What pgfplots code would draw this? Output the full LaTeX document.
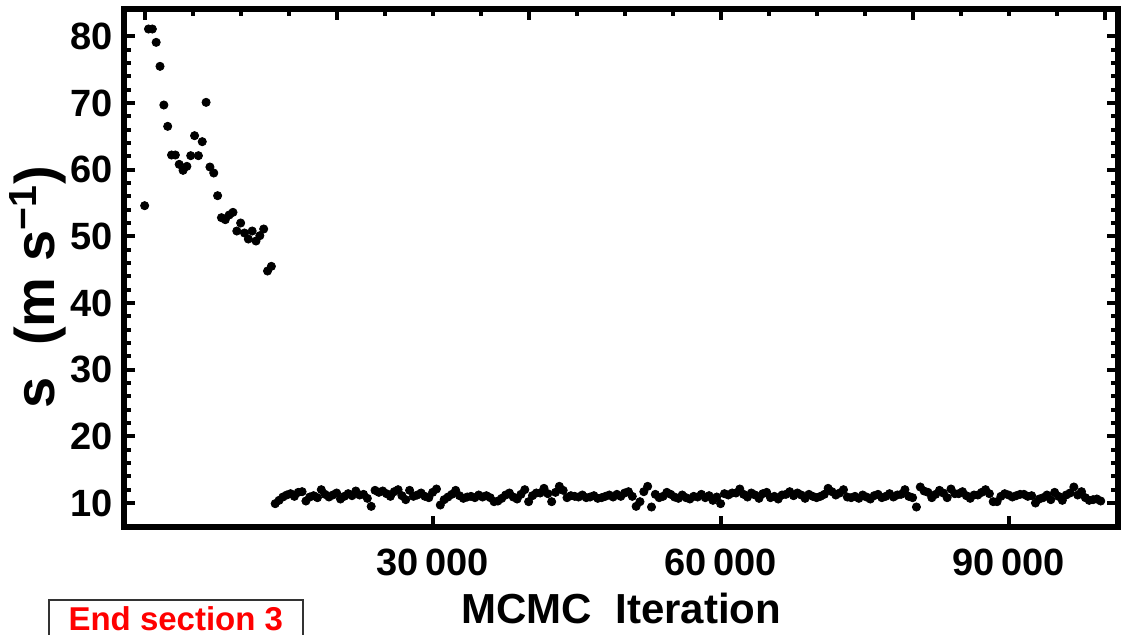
\documentclass[border=0pt]{standalone}
\usepackage{fontspec}
\setmainfont{Liberation Sans}
\usepackage{pgfplots}
\pgfplotsset{compat=1.18}
\usepackage{pgfplotstable}
\pgfplotstableread{
x y
0 54.6
400 81.1
800 81.1
1200 79.1
1600 75.5
2000 69.7
2400 66.5
2800 62.2
3200 62.2
3600 60.8
4000 59.9
4400 60.5
4800 62.1
5200 65.1
5600 62.1
6000 64.2
6400 70.1
6800 60.4
7200 59.5
7600 56.1
8000 52.8
8400 52.5
8800 53.2
9200 53.6
9600 50.8
10000 52.0
10400 50.5
10800 49.6
11200 50.8
11600 49.3
12000 50.1
12400 51.1
12800 44.8
13200 45.5
13600 9.9
14000 10.4
14400 10.9
14800 11.2
15200 11.4
15600 11.0
16000 11.6
16400 11.7
16800 10.3
17200 10.9
17600 11.1
18000 10.8
18400 12.0
18800 11.3
19200 10.9
19600 11.2
20000 11.5
20400 10.6
20800 11.0
21200 11.4
21600 11.1
22000 11.8
22400 11.2
22800 11.3
23200 10.7
23600 9.5
24000 11.9
24400 11.6
24800 11.8
25200 11.4
25600 11.0
26000 11.7
26400 12.0
26800 11.1
27200 10.5
27600 11.9
28000 11.0
28400 11.2
28800 11.5
29200 11.0
29600 10.8
30000 11.6
30400 12.1
30800 9.7
31200 10.5
31600 10.9
32000 11.3
32400 11.9
32800 11.1
33200 10.7
33600 10.9
34000 11.0
34400 10.8
34800 11.2
35200 10.9
35600 11.1
36000 10.8
36400 10.2
36800 10.3
37200 10.7
37600 11.2
38000 11.5
38400 10.9
38800 10.6
39200 11.3
39600 12.0
40000 10.2
40400 11.1
40800 11.5
41200 11.5
41600 12.2
42000 11.4
42400 10.2
42800 11.6
43200 12.5
43600 11.9
44000 10.8
44400 11.1
44800 11.0
45200 10.9
45600 11.2
46000 10.8
46400 10.9
46800 11.1
47200 10.7
47600 10.8
48000 11.0
48400 11.2
48800 10.9
49200 11.3
49600 11.0
50000 11.5
50400 11.7
50800 11.0
51200 9.5
51600 10.2
52000 11.7
52400 12.5
52800 9.4
53200 11.3
53600 10.8
54000 11.0
54400 11.6
54800 11.3
55200 10.9
55600 10.7
56000 11.2
56400 10.8
56800 10.6
57200 11.0
57600 10.9
58000 11.3
58400 10.8
58800 11.1
59200 10.4
59600 10.9
60000 9.9
60400 11.4
60800 11.2
61200 11.5
61600 11.5
62000 12.1
62400 11.3
62800 10.9
63200 11.5
63600 11.2
64000 10.7
64400 11.4
64800 11.6
65200 10.8
65600 11.0
66000 10.6
66400 11.2
66800 11.3
67200 11.7
67600 11.1
68000 11.5
68400 11.2
68800 10.7
69200 11.3
69600 11.0
70000 10.8
70400 11.0
70800 11.3
71200 12.2
71600 11.7
72000 11.2
72400 11.5
72800 12.0
73200 10.9
73600 10.8
74000 11.0
74400 10.7
74800 11.2
75200 10.9
75600 10.6
76000 11.1
76400 11.3
76800 10.8
77200 11.0
77600 11.4
78000 10.9
78400 11.2
78800 11.3
79200 12.0
79600 11.0
80000 10.8
80400 9.4
80800 12.4
81200 11.8
81600 11.6
82000 10.8
82400 11.3
82800 11.9
83200 11.5
83600 10.8
84000 12.1
84400 11.4
84800 11.4
85200 11.7
85600 11.1
86000 10.7
86400 11.2
86800 11.2
87200 11.6
87600 12.0
88000 11.4
88400 10.2
88800 10.2
89200 11.0
89600 11.4
90000 11.2
90400 10.9
90800 11.1
91200 11.3
91600 11.3
92000 11.0
92400 11.1
92800 10.0
93200 10.6
93600 10.8
94000 11.2
94400 10.5
94800 11.6
95200 11.0
95600 10.4
96000 11.2
96400 11.5
96800 12.4
97200 11.2
97600 11.7
98000 10.8
98400 10.4
98800 10.5
99200 10.6
99600 10.3
}\chaindata
\begin{document}
\begin{tikzpicture}
\useasboundingbox (-62.25pt,-53.5pt) rectangle (499.25pt,263.5pt);
\pgfplotsset{
  common/.style={
    at={(0pt,0pt)}, anchor=south west,
    scale only axis, width=496.75pt, height=259pt,
    xmin=-2100, xmax=101400, ymin=6.4, ymax=84.1,
    tick align=inside,
    major tick length=5.5pt, minor tick length=3.5pt,
    every tick/.style={line width=2pt, black},
    scaled x ticks=false, scaled y ticks=false,
    /pgf/number format/assume math mode=true,
    /pgf/number format/fixed,
    /pgf/number format/1000 sep={\,},
    ticklabel style={font=\bfseries\fontsize{19pt}{19pt}\selectfont, inner sep=0pt},
  }
}
\begin{axis}[common,
  axis line style={line width=3pt, line join=miter},
  xtick={30000,60000,90000},
  xtick pos=left,
  ytick={10,20,...,80},
  minor y tick num=4,
  ytick pos=both,
  xticklabel style={anchor=base, yshift=-24pt},
  yticklabel style={anchor=east, xshift=-5.5pt},
  xlabel={MCMC\ \ Iteration},
  ylabel={s\ \ (m s\textsuperscript{\char"2212 1})},
  every axis x label/.style={at={(axis description cs:0.5,0)}, anchor=base, yshift=-48pt, font=\bfseries\fontsize{21pt}{21pt}\selectfont},
  every axis y label/.style={at={(axis description cs:-0.087,0.463)}, rotate=90, anchor=center, font=\bfseries\fontsize{28pt}{28pt}\selectfont},
]
\addplot[only marks, mark=*, mark size=2.05pt, black] table[x=x, y=y] {\chaindata};
\end{axis}
\begin{axis}[common,
  axis line style={draw=none},
  xtick={0,20000,...,100000},
  minor x tick num=3,
  xtick pos=right,
  xticklabels={},
  ytick=\empty,
]
\end{axis}
\draw[line width=1pt, black!80] (-37.6pt,-56.5pt) rectangle (89.4pt,-36.5pt);
\node[anchor=base, text=red, font=\bfseries\fontsize{16.5pt}{16.5pt}\selectfont, inner sep=0pt] at (25.65pt,-51.5pt) {End section 3};
\end{tikzpicture}
\end{document}
